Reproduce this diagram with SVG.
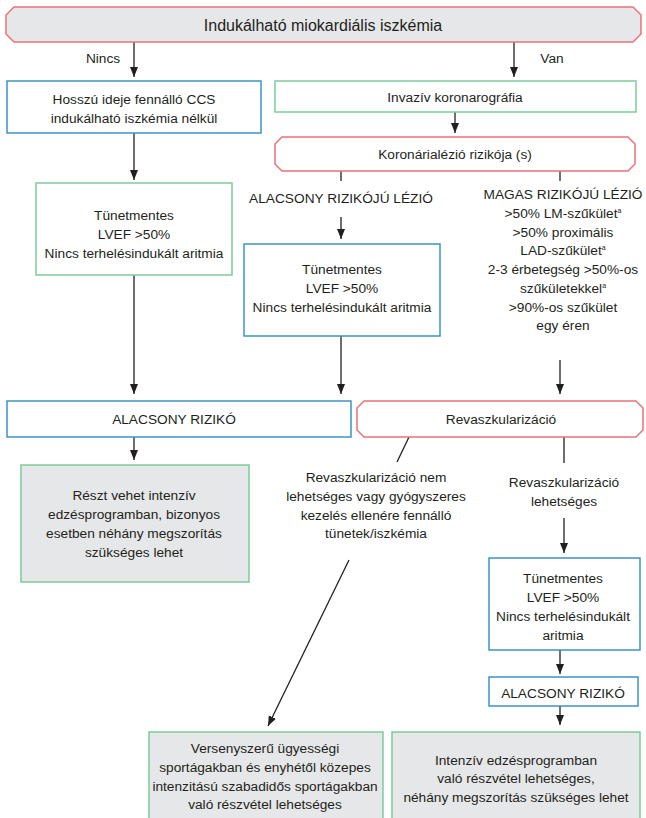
<svg xmlns="http://www.w3.org/2000/svg" width="646" height="818" viewBox="0 0 646 818">
<defs>
<style>
text{font-family:"Liberation Sans",Arial,sans-serif;font-size:13.7px;fill:#231f20;text-anchor:middle}
.big{font-size:16px}
.red{fill:#e6e7e8;stroke:#e8737a;stroke-width:1.5}
.redw{fill:#fff;stroke:#e8737a;stroke-width:1.5}
.blue{fill:#fff;stroke:#3b94c4;stroke-width:1.5}
.green{fill:#fff;stroke:#7ccb9a;stroke-width:1.5}
.greeng{fill:#e6e7e8;stroke:#7ccb9a;stroke-width:1.5}
.c{stroke:#231f20;stroke-width:1.3;fill:none}
.a{marker-end:url(#ah)}
.sup{font-size:7px}
</style>
<marker id="ah" markerUnits="userSpaceOnUse" markerWidth="10" markerHeight="10" viewBox="0 0 10 10" refX="10" refY="5" orient="auto">
<path d="M0,1 L10,5 L0,9 z" fill="#231f20"/>
</marker>
</defs>

<g id="connectors">
<line class="c a" x1="134" y1="42" x2="134" y2="77"/>
<line class="c a" x1="514" y1="42" x2="514" y2="77"/>
<line class="c a" x1="455" y1="112" x2="455" y2="133"/>
<line class="c a" x1="134" y1="133" x2="134" y2="180"/>
<line class="c" x1="341" y1="171" x2="341" y2="181"/>
<line class="c" x1="560" y1="171" x2="560" y2="181"/>
<line class="c a" x1="341" y1="217" x2="341" y2="239"/>
<line class="c a" x1="134" y1="275" x2="134" y2="394"/>
<line class="c a" x1="341" y1="336" x2="341" y2="394"/>
<line class="c a" x1="560" y1="360" x2="560" y2="394"/>
<line class="c a" x1="134" y1="437" x2="134" y2="460"/>
<line class="c" x1="409" y1="437" x2="397" y2="462"/>
<line class="c" x1="564" y1="437" x2="564" y2="463"/>
<line class="c a" x1="564" y1="518" x2="564" y2="553"/>
<line class="c a" x1="349" y1="560" x2="268" y2="726"/>
<line class="c a" x1="560" y1="650" x2="560" y2="674"/>
<line class="c a" x1="560" y1="706" x2="560" y2="725"/>
</g>

<g id="n-top">
<polygon class="red" points="14,7 633,7 641,15 641,34 633,42 14,42 6,34 6,15"/>
<text class="big" x="323" y="31">Indukálható miokardiális iszkémia</text>
</g>
<g id="l-nincs"><text x="103" y="63">Nincs</text></g>
<g id="l-van"><text x="552" y="63">Van</text></g>

<g id="n-hosszu">
<rect class="blue" x="7" y="81" width="254" height="52"/>
<text x="134" y="104">Hosszú ideje fennálló CCS</text>
<text x="134" y="123">indukálható iszkémia nélkül</text>
</g>

<g id="n-invaziv">
<rect class="green" x="275" y="81" width="361" height="31"/>
<text x="455" y="102">Invazív koronarográfia</text>
</g>

<g id="n-koronaria">
<polygon class="redw" points="282,137 628,137 635,144 635,164 628,171 282,171 275,164 275,144"/>
<text x="455" y="159">Koronárialézió rizikója (s)</text>
</g>

<g id="n-tunet1">
<rect class="green" x="36" y="183" width="196" height="92"/>
<text x="134" y="220">Tünetmentes</text>
<text x="134" y="239">LVEF &gt;50%</text>
<text x="134" y="258">Nincs terhelésindukált aritmia</text>
</g>

<g id="n-alacsonylezio">
<text x="341" y="203">ALACSONY RIZIKÓJÚ LÉZIÓ</text>
</g>

<g id="n-magas">
<text x="563" y="199">MAGAS RIZIKÓJÚ LÉZIÓ</text>
<text x="563" y="218">&gt;50% LM-szűkület<tspan class="sup" dy="-5">a</tspan></text>
<text x="563" y="237">&gt;50% proximális</text>
<text x="563" y="255">LAD-szűkület<tspan class="sup" dy="-5">a</tspan></text>
<text x="563" y="274">2-3 érbetegség &gt;50%-os</text>
<text x="563" y="293">szűkületekkel<tspan class="sup" dy="-5">a</tspan></text>
<text x="563" y="312">&gt;90%-os szűkület</text>
<text x="563" y="330">egy éren</text>
</g>

<g id="n-tunet2">
<rect class="blue" x="244" y="244" width="196" height="92"/>
<text x="342" y="274">Tünetmentes</text>
<text x="342" y="293">LVEF &gt;50%</text>
<text x="342" y="312">Nincs terhelésindukált aritmia</text>
</g>

<g id="n-alacsony1">
<rect class="blue" x="7" y="401" width="344" height="36"/>
<text x="174" y="424">ALACSONY RIZIKÓ</text>
</g>

<g id="n-revasz">
<polygon class="redw" points="364,401 636,401 643,408 643,430 636,437 364,437 357,430 357,408"/>
<text x="501" y="424">Revaszkularizáció</text>
</g>

<g id="n-reszt">
<rect class="greeng" x="21" y="465" width="228" height="117"/>
<text x="134" y="500">Részt vehet intenzív</text>
<text x="134" y="519">edzésprogramban, bizonyos</text>
<text x="134" y="538">esetben néhány megszorítás</text>
<text x="134" y="557">szükséges lehet</text>
</g>

<g id="n-revnem">
<text x="376" y="482">Revaszkularizáció nem</text>
<text x="376" y="501">lehetséges vagy gyógyszeres</text>
<text x="376" y="520">kezelés ellenére fennálló</text>
<text x="376" y="538">tünetek/iszkémia</text>
</g>

<g id="n-revlehet">
<text x="564" y="487">Revaszkularizáció</text>
<text x="564" y="506">lehetséges</text>
</g>

<g id="n-tunet3">
<rect class="blue" x="489" y="558" width="151" height="92"/>
<text x="563" y="583">Tünetmentes</text>
<text x="563" y="602">LVEF &gt;50%</text>
<text x="563" y="621">Nincs terhelésindukált</text>
<text x="563" y="640">aritmia</text>
</g>

<g id="n-alacsony2">
<rect class="blue" x="489" y="677" width="149" height="29"/>
<text x="563" y="698">ALACSONY RIZIKÓ</text>
</g>

<g id="n-verseny">
<rect class="greeng" x="149" y="732" width="234" height="90"/>
<text x="265" y="753">Versenyszerű ügyességi</text>
<text x="265" y="772">sportágakban és enyhétől közepes</text>
<text x="265" y="791">intenzitású szabadidős sportágakban</text>
<text x="265" y="809">való részvétel lehetséges</text>
</g>

<g id="n-intenziv">
<rect class="greeng" x="392" y="732" width="248" height="90"/>
<text x="516" y="765">Intenzív edzésprogramban</text>
<text x="516" y="783">való részvétel lehetséges,</text>
<text x="516" y="802">néhány megszorítás szükséges lehet</text>
</g>
</svg>
